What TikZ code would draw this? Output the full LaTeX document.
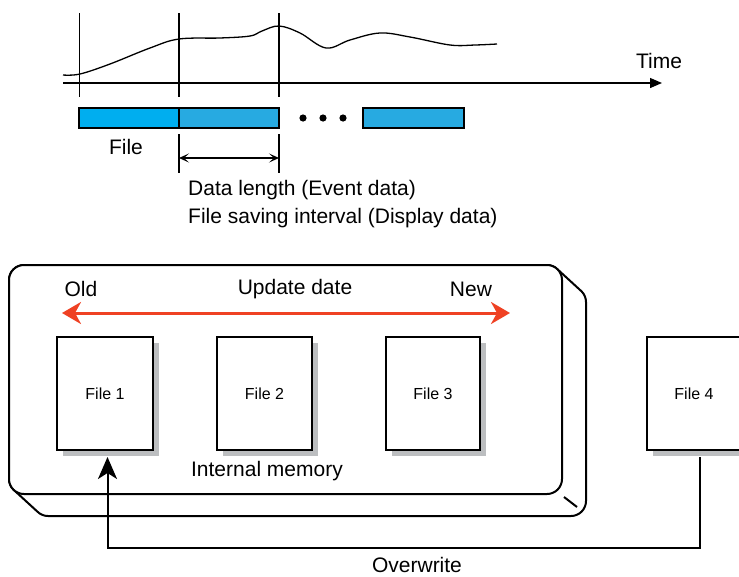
\documentclass[tikz,border=0pt]{standalone}
\usepackage{fontspec}
\setmainfont{Liberation Sans}
\usetikzlibrary{arrows.meta,shadows,calc}
\definecolor{barA}{HTML}{00AEEF}
\definecolor{barB}{HTML}{27AAE1}
\definecolor{redarr}{HTML}{EF4123}
\definecolor{shadowgray}{HTML}{BCBEC0}
\begin{document}
\begin{tikzpicture}[x=1pt,y=-1pt,
  lbl/.style={font=\fontsize{21pt}{24pt}\selectfont,inner sep=0pt},
  flbl/.style={font=\fontsize{16pt}{19pt}\selectfont},
  filebox/.style={draw,line width=2pt,fill=white,minimum width=96pt,minimum height=113pt,inner sep=0pt,
     general shadow={fill=shadowgray,shadow xshift=6pt,shadow yshift=-6pt}},
  barbox/.style={draw,line width=2pt,minimum height=20pt,inner sep=0pt},
  thin/.style={line width=1.3pt},
  conn/.style={line width=2pt}
]
\useasboundingbox (0,0) rectangle (739,576);

% ---- top section ----
\coordinate (t0) at (63,83);
\coordinate (t1) at (662,83);
\draw[thin,-{Triangle[length=12pt,width=10pt]}] (t0) -- (t1);
\node[lbl] (time) at (659,61) {Time};
\foreach \n/\x in {va/79.5,vb/179,vc/279}{
  \coordinate (\n top) at (\x,13);
  \coordinate (\n bot) at (\x,97);
  \draw[thin] (\n top) -- (\n bot);
}
\draw[thin] plot[smooth,tension=0.6] coordinates {(63,75) (80,74) (110,64) (150,48) (179,39) (220,38) (250,36) (262,31) (279,26) (300,33) (326,48) (350,40) (380,33) (410,37) (450,45) (475,45) (497,44)};

\node[barbox,fill=barA,minimum width=100pt] (bar1) at (129,118) {};
\node[barbox,fill=barB,minimum width=100pt] (bar2) at (229,118) {};
\node[barbox,fill=barB,minimum width=101pt] (bar3) at (413.5,118) {};
\foreach \n/\x in {d1/303,d2/323,d3/343}{
  \fill (\x,118) circle (3.6pt);
}
\node[lbl] (filelbl) at (126,147) {File};
\coordinate (m1t) at (179,134); \coordinate (m1b) at (179,173);
\coordinate (m2t) at (279,134); \coordinate (m2b) at (279,173);
\draw[thin] (m1t) -- (m1b);
\draw[thin] (m2t) -- (m2b);
\coordinate (dl) at (179,158); \coordinate (dr) at (279,158);
\draw[thin,{Stealth[length=10pt,width=9pt,inset=5pt]}-{Stealth[length=10pt,width=9pt,inset=5pt]}] (dl) -- (dr);
\node[lbl,anchor=west] (dlen) at (188,190) {Data length (Event data)};
\node[lbl,anchor=west] (fsi) at (188,218) {File saving interval (Display data)};

% ---- memory box ----
\draw[line width=2pt,fill=white]
  (9,479) -- (9,280) arc[start angle=180,end angle=270,radius=15]
  -- (547,265) arc[start angle=270,end angle=315,radius=15]
  -- (581.6,291.4) arc[start angle=315,end angle=360,radius=15]
  -- (586,501) arc[start angle=0,end angle=90,radius=15]
  -- (48,516) arc[start angle=90,end angle=135,radius=15]
  -- (13.4,489.6) arc[start angle=135,end angle=180,radius=15] -- cycle;
\draw[line width=2pt,fill=white,rounded corners=15pt] (9,265) rectangle (562,494);
\coordinate (tk1) at (564,497); \coordinate (tk2) at (577,507);
\draw[line width=2pt] (tk1) -- (tk2);

\node[lbl] (old) at (81,289) {Old};
\node[lbl] (upd) at (295,289) {Update date};
\node[lbl] (new) at (471,289) {New};
\coordinate (ra) at (62,313); \coordinate (rb) at (510,313);
\draw[line width=3pt,redarr,{Stealth[length=19pt,width=22pt,inset=6pt]}-{Stealth[length=19pt,width=22pt,inset=6pt]}] (ra) -- (rb);

\node[filebox] (f1) at (105,393.5) {};
\node[flbl] at (f1) {File 1};
\node[filebox,minimum width=95pt] (f2) at (264.5,393.5) {};
\node[flbl] at (f2) {File 2};
\node[filebox,minimum width=94pt] (f3) at (433,393.5) {};
\node[flbl] at (f3) {File 3};
\node[filebox,minimum width=94pt] (f4) at (694,393.5) {};
\node[flbl] at (f4) {File 4};
\node[lbl] (intmem) at (267,471) {Internal memory};

% ---- overwrite connector ----
\coordinate (ow1) at (700,457);
\coordinate (owc) at (700,548);
\coordinate (ow2) at (107.5,457);
\draw[conn,-{Stealth[length=22pt,width=19pt,inset=6pt]}] (ow1) -- (owc) -| (ow2);
\node[lbl] (ow) at (417,565) {Overwrite};
\end{tikzpicture}
\end{document}
